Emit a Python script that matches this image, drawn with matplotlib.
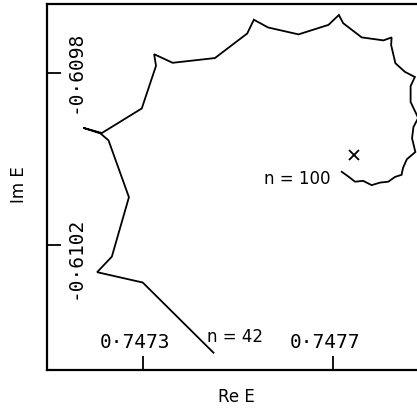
import matplotlib
matplotlib.use("Agg")
import matplotlib.pyplot as plt
import matplotlib.transforms as mtransforms

# Trajectory of E(n) in the complex plane, n = 42 ... 100
re_E = [0.747449, 0.747300, 0.747204, 0.747235, 0.747271, 0.747228, 0.747211,
        0.747175, 0.747214, 0.747298, 0.747328, 0.747324, 0.747363, 0.747452,
        0.747520, 0.747534, 0.747564, 0.747628, 0.747691, 0.747713, 0.747722,
        0.747761, 0.747807, 0.747824, 0.747823, 0.747832, 0.747852, 0.747873,
        0.747864, 0.747864, 0.747880, 0.747870, 0.747867, 0.747874, 0.747856,
        0.747848, 0.747845, 0.747831, 0.747817, 0.747800, 0.747782, 0.747764,
        0.747747, 0.747733, 0.747719]
im_E = [-0.610450, -0.610287, -0.610263, -0.610227, -0.610089, -0.609957, -0.609941,
        -0.609928, -0.609940, -0.609883, -0.609784, -0.609757, -0.609777, -0.609766,
        -0.609709, -0.609677, -0.609695, -0.609711, -0.609689, -0.609666, -0.609685,
        -0.609718, -0.609725, -0.609718, -0.609736, -0.609778, -0.609798, -0.609810,
        -0.609831, -0.609868, -0.609905, -0.609926, -0.609952, -0.609984, -0.610001,
        -0.610021, -0.610037, -0.610042, -0.610053, -0.610055, -0.610061, -0.610051,
        -0.610053, -0.610041, -0.610030]

# limit point (cross)
limit_re = [0.747745]
limit_im = [-0.609991]

x_ticks = [0.7473, 0.7477]
x_tick_labels = ["0\u00b77473", "0\u00b77477"]
y_ticks = [-0.6098, -0.6102]
y_tick_labels = ["-0\u00b76098", "-0\u00b76102"]

W, H = 417, 408
fig = plt.figure(figsize=(W / 100, H / 100), dpi=100)
ax = fig.add_axes([47 / W, (H - 370) / H, (425 - 47) / W, (370 - 4) / H])

ax.plot(re_E, im_E, color="black", lw=1.3, solid_joinstyle="miter")
ax.plot(limit_re, limit_im, marker="x", color="black", ms=7.5, mew=1.3, ls="none")

ax.set_xlim(0.7470985, 0.7478943)
ax.set_ylim(-0.6104901, -0.6096405)

ax.set_xticks(x_ticks)
ax.set_yticks(y_ticks)
ax.set_xticklabels([])
ax.set_yticklabels([])
ax.tick_params(direction="in", length=10, width=1.3, color="black")
for s in ("left", "bottom", "top"):
    ax.spines[s].set_linewidth(1.6)
ax.spines["right"].set_visible(False)

mono = "DejaVu Sans Mono"
# x tick labels inside the axes
bx = mtransforms.blended_transform_factory(ax.transData, ax.transAxes)
for v, lab in zip(x_ticks, x_tick_labels):
    tr = mtransforms.offset_copy(bx, fig=fig, x=-8, y=0, units="dots")
    ax.text(v, 0.0738, lab, transform=tr, ha="center", va="center",
            family=mono, fontsize=14)

# y tick labels inside the axes, rotated
by = mtransforms.blended_transform_factory(ax.transAxes, ax.transData)
y_offsets = [1.2, -12.5]
for v, lab, off in zip(y_ticks, y_tick_labels, y_offsets):
    tr = mtransforms.offset_copy(by, fig=fig, x=0, y=off, units="dots")
    ax.text(0.0741, v, lab, transform=tr, ha="center", va="center",
            rotation=90, family=mono, fontsize=14)

# annotations
ax.text(0.7474937, -0.6104128, "n = 42", ha="center", va="center", fontsize=12)
ax.text(0.7476943, -0.6100456, "n = 100", ha="right", va="center", fontsize=12)

# axis labels
fig.text(236.7 / W, 1 - 396.7 / H, "Re E", ha="center", va="center", fontsize=12)
fig.text(19 / W, 1 - 185 / H, "Im E", ha="center", va="center", rotation=90,
         fontsize=12)

fig.savefig("out.png", dpi=100)
